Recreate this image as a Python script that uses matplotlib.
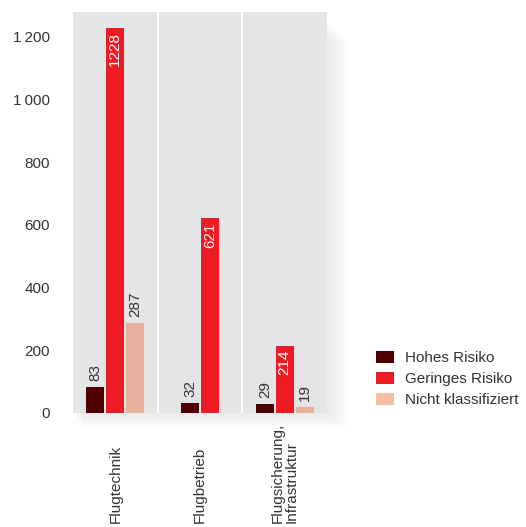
import matplotlib.pyplot as plt
from matplotlib.patches import Rectangle, Patch

plt.rcParams['font.family'] = ['Liberation Sans', 'DejaVu Sans']

# Meldungen nach Bereich und Risikoeinstufung
categories = ['Flugtechnik', 'Flugbetrieb', 'Flugsicherung,\nInfrastruktur']
series_names = ['Hohes Risiko', 'Geringes Risiko', 'Nicht klassifiziert']
hohes = [83, 32, 29]
geringes = [1228, 621, 214]
nicht_klass = [287, None, 19]
y_ticks = [0, 200, 400, 600, 800, 1000, 1200]
y_tick_labels = ['0', '200', '400', '600', '800', '1\u2009000', '1\u2009200']

colors = ['#4e0000', '#ed1c24', '#e8b09c']
legend_colors = ['#4e0000', '#ed1c24', '#f4bda6']
text_color = '#333333'

W, H = 526, 527
fig = plt.figure(figsize=(W / 100, H / 100), dpi=100)
left, right, top, bottom = 73, 327, 12, 413
ax = fig.add_axes([left / W, 1 - bottom / H, (right - left) / W, (bottom - top) / H])

# soft shadow under the panel
for i in range(20):
    d = i + 1
    fig.patches.append(Rectangle(((left + d * 0.5) / W, 1 - (bottom + d * 0.8) / H),
                                 (right - left + d * 0.6) / W, (bottom - top - 10) / H,
                                 transform=fig.transFigure, facecolor='black',
                                 alpha=0.005, edgecolor='none', zorder=0))

ax.set_facecolor('#e4e5e7')
ax.set_zorder(1)
for s in ax.spines.values():
    s.set_visible(False)

width = 0.212
step = 0.235
series = [hohes, geringes, nicht_klass]
for g in range(len(categories)):
    present = [k for k in range(3) if series[k][g] is not None]
    n = len(present)
    for j, k in enumerate(present):
        v = series[k][g]
        x = g + (j - (n - 1) / 2) * step
        ax.bar(x, v, width=width, color=colors[k], zorder=2)
        if k == 1:
            ax.text(x, v - 12, str(v), rotation=90, ha='center', va='top',
                    color='white', fontsize=11, zorder=3)
        else:
            ax.text(x, v + 18, str(v), rotation=90, ha='center', va='bottom',
                    color=text_color, fontsize=11, zorder=3)

for xs in [0.5, 1.5]:
    ax.axvline(xs, color='white', lw=1.5, zorder=1)

ax.set_xlim(-0.5, 2.5)
ax.set_ylim(0, (bottom - top) / 376 * 1200)
ax.set_xticks([])
ax.set_yticks(y_ticks)
ax.set_yticklabels(y_tick_labels, fontsize=11, color=text_color)
ax.tick_params(axis='y', length=0, pad=16.5)

# category labels below the panel, read bottom to top
for g, name in enumerate(categories):
    xf = (left + (g + 0.5) * (right - left) / 3) / W
    fig.text(xf, 1 - 523 / H, name, rotation=90, ha='center', va='bottom',
             color=text_color, fontsize=11, linespacing=1.0,
             multialignment='left')

handles = [Patch(facecolor=c, edgecolor='none', label=n)
           for c, n in zip(legend_colors, series_names)]
fig.legend(handles=handles, loc='lower left', bbox_to_anchor=(362 / W, 1 - 421 / H),
           frameon=False, fontsize=11, handlelength=1.2, handleheight=0.8,
           handletextpad=0.7, labelspacing=0.45, labelcolor=text_color)

fig.savefig('out.png', dpi=100)
